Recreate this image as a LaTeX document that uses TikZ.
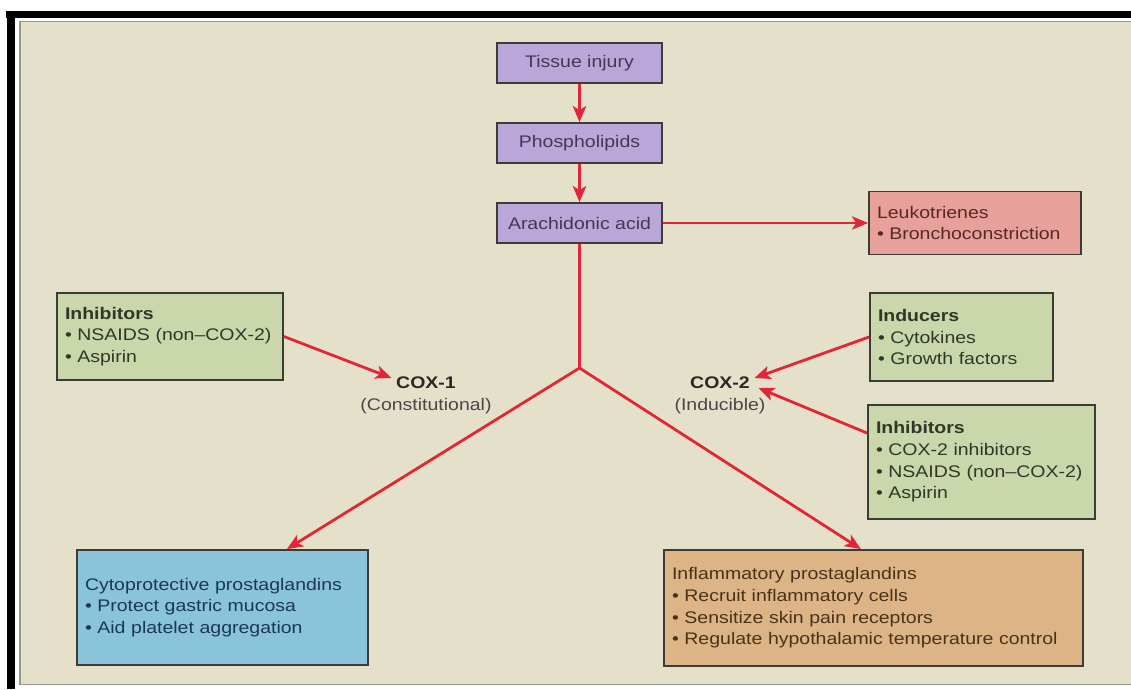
\documentclass[tikz,border=0pt]{standalone}
\usepackage{fontspec}
\setmainfont{Liberation Sans}[FakeStretch=1.16]
\usetikzlibrary{arrows.meta,calc,positioning}

\definecolor{bgbeige}{RGB}{229,224,201}
\definecolor{framegrey}{RGB}{150,150,140}
\definecolor{boxline}{RGB}{60,60,55}
\definecolor{purplefill}{RGB}{186,166,216}
\definecolor{purpletext}{RGB}{66,56,86}
\definecolor{leukofill}{RGB}{231,161,154}
\definecolor{leukotext}{RGB}{86,40,38}
\definecolor{greenfill}{RGB}{201,215,170}
\definecolor{greentext}{RGB}{48,55,40}
\definecolor{bluefill}{RGB}{138,196,216}
\definecolor{bluetext}{RGB}{26,56,86}
\definecolor{tanfill}{RGB}{221,180,134}
\definecolor{tantext}{RGB}{74,50,26}
\definecolor{arrowred}{RGB}{226,38,56}
\definecolor{coxtext}{RGB}{40,40,40}

\begin{document}
\begin{tikzpicture}[x=0.75pt,y=0.75pt,yscale=-1,xscale=1,
  txt/.style={font=\fontsize{12.6}{16.3}\selectfont},
  stepbox/.style={txt, draw=boxline, line width=1.4pt, fill=purplefill, text=purpletext, minimum width=123.75pt, minimum height=30pt, align=center},
  listbox/.style={txt, draw=boxline, line width=1.4pt, inner xsep=6pt, align=left},
  redline/.style={draw=arrowred, line width=2.1pt},
  redarrow/.style={redline, -{Stealth[length=12pt,width=10pt,inset=3pt]}},
  coxlabel/.style={text=coxtext, font=\fontsize{12.6}{16.3}\selectfont\bfseries},
  coxsub/.style={txt, text=coxtext!85!white},
  ]
      \useasboundingbox (0,0) rectangle (1131,689);

      %Frame
      \fill[white] (0,0) rectangle (1131,689);
      \fill[black] (6,11) rectangle (1131,18);
      \fill[black] (7,11) rectangle (15,689);
      \draw[framegrey, line width=1.2pt, fill=bgbeige] (20,21.5) rectangle (1136,684.5);

      % Text Node
      \node[stepbox] (tissue) at (579.5,63) {Tissue injury};
      % Text Node
      \node[stepbox] (phos) at (579.5,143) {Phospholipids};
      % Text Node
      \node[stepbox] (arach) at (579.5,223) {Arachidonic acid};
      % Text Node
      \node[listbox, fill=leukofill, text=leukotext, text width=147pt, minimum height=47.25pt] (leuko) at (975,223) {Leukotrienes\\\textbullet\ Bronchoconstriction};
      % Text Node
      \node[listbox, fill=greenfill, text=greentext, text width=157.5pt, minimum height=65.25pt] (inhl) at (170,336.5) {\textbf{Inhibitors}\\\textbullet\ NSAIDS (non–COX-2)\\\textbullet\ Aspirin};
      % Text Node
      \node[listbox, fill=greenfill, text=greentext, text width=125.25pt, minimum height=66pt] (ind) at (961.5,337) {\textbf{Inducers}\\\textbullet\ Cytokines\\\textbullet\ Growth factors};
      % Text Node
      \node[listbox, fill=greenfill, text=greentext, text width=158.25pt, minimum height=85.5pt] (inhr) at (981.5,462) {\textbf{Inhibitors}\\\textbullet\ COX-2 inhibitors\\\textbullet\ NSAIDS (non–COX-2)\\\textbullet\ Aspirin};
      % Text Node
      \node[listbox, fill=bluefill, text=bluetext, text width=206.25pt, minimum height=86.25pt] (cyto) at (222.5,607.5) {Cytoprotective prostaglandins\\\textbullet\ Protect gastric mucosa\\\textbullet\ Aid platelet aggregation};
      % Text Node
      \node[listbox, fill=tanfill, text=tantext, text width=302.25pt, minimum height=87pt] (infl) at (873.5,608) {Inflammatory prostaglandins\\\textbullet\ Recruit inflammatory cells\\\textbullet\ Sensitize skin pain receptors\\\textbullet\ Regulate hypothalamic temperature control};

      % Text Node
      \node[coxlabel] (cox1) at (426,383) {COX-1};
      \node[coxsub, below=0pt of cox1] (cox1sub) {(Constitutional)};
      % Text Node
      \node[coxlabel] (cox2) at (720,383) {COX-2};
      \node[coxsub, below=0pt of cox2] (cox2sub) {(Inducible)};

      \coordinate (junc) at (579.5,368);

      %Straight Lines
      \draw[redarrow] (tissue) -- (phos);
      \draw[redarrow] (phos) -- (arach);
      \draw[redarrow] (arach) -- (leuko);
      \draw[redline] (arach) -- (junc);
      \draw[redarrow] (junc) -- ($(cyto.north west)!0.72!(cyto.north east)$);
      \draw[redarrow] (junc) -- ($(infl.north west)!0.47!(infl.north east)$);
      %Straight Lines
      \draw[redarrow] (inhl.east) -- ($(cox1.west)+(0,-5)$);
      \draw[redarrow] (ind.west) -- ($(cox2.east)+(0,-5)$);
      \draw[redarrow] ($(inhr.north west)!0.25!(inhr.south west)$) -- ($(cox2.east)+(4,5)$);
\end{tikzpicture}
\end{document}
